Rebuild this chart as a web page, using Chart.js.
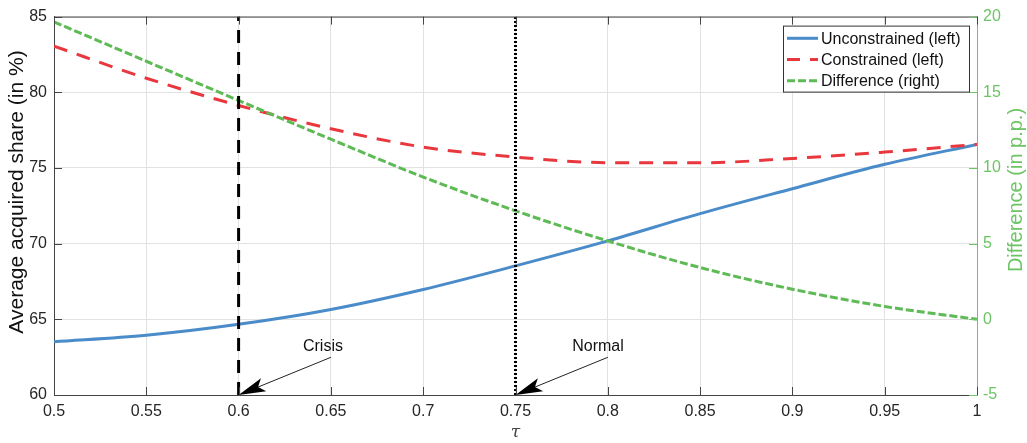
<!DOCTYPE html>
<html>
<head>
<meta charset="utf-8">
<style>
  html, body { margin: 0; padding: 0; background: #fff; }
  #wrap { width: 1027px; height: 443px; position: relative; }
</style>
<script src="https://cdn.jsdelivr.net/npm/chart.js@4.4.0/dist/chart.umd.min.js"></script>
</head>
<body>
<div id="wrap"><canvas id="chart"></canvas></div>
<script>
// values
var tau = [0.5, 0.55, 0.6, 0.65, 0.7, 0.75, 0.8, 0.85, 0.9, 0.95, 1.0];
var unconstrained = [63.52, 63.95, 64.67, 65.65, 66.97, 68.53, 70.18, 71.98, 73.63, 75.24, 76.56];
var constrained = [83.05, 80.93, 79.13, 77.59, 76.38, 75.72, 75.35, 75.34, 75.63, 76.05, 76.56];
var difference = [19.65, 17.05, 14.46, 11.9, 9.4, 7.17, 5.18, 3.42, 1.99, 0.85, 0.0];
var xTicks = [0.5, 0.55, 0.6, 0.65, 0.7, 0.75, 0.8, 0.85, 0.9, 0.95, 1];
var leftTicks = [60, 65, 70, 75, 80, 85];
var rightTicks = [-5, 0, 5, 10, 15, 20];
var crisisTau = 0.6;
var normalTau = 0.75;

var BLUE = '#4a8bc9', RED = '#e8383d', GREEN = '#5dba55', AXIS_GREEN = '#6cc464';
var FONT = '"Liberation Sans", Arial, Helvetica, sans-serif';

function pts(ys){
  return tau.map(function(t, i){ return {x: t, y: ys[i]}; });
}

// arrows with text, MATLAB-style annotations
var notes = [
  {text: 'Crisis', tx: 0.6457, ty: 63.23, from: {x: 0.65, y: 62.49}, to: {x: crisisTau, y: 60}},
  {text: 'Normal', tx: 0.7947, ty: 63.23, from: {x: 0.8, y: 62.49}, to: {x: normalTau, y: 60}}
];

var notesPlugin = {
  id: 'notes',
  afterDatasetsDraw: function(chart){
    var c = chart.ctx, sx = chart.scales.x, sy = chart.scales.y;
    c.save();
    notes.forEach(function(n){
      var x0 = sx.getPixelForValue(n.from.x), y0 = sy.getPixelForValue(n.from.y);
      var x1 = sx.getPixelForValue(n.to.x), y1 = sy.getPixelForValue(n.to.y);
      var ang = Math.atan2(y1 - y0, x1 - x0);
      var len = 27, hw = 7;
      var bx = x1 - Math.cos(ang) * len, by = y1 - Math.sin(ang) * len;
      c.strokeStyle = '#222'; c.lineWidth = 1;
      c.beginPath(); c.moveTo(x0, y0); c.lineTo(bx + Math.cos(ang) * 8, by + Math.sin(ang) * 8); c.stroke();
      c.fillStyle = '#000';
      c.beginPath();
      c.moveTo(x1, y1);
      c.lineTo(bx - Math.sin(ang) * hw, by + Math.cos(ang) * hw);
      c.lineTo(bx + Math.cos(ang) * 6, by + Math.sin(ang) * 6);
      c.lineTo(bx + Math.sin(ang) * hw, by - Math.cos(ang) * hw);
      c.closePath(); c.fill();
      c.font = '16px ' + FONT; c.fillStyle = '#111';
      c.textAlign = 'center'; c.textBaseline = 'middle';
      c.fillText(n.text, sx.getPixelForValue(n.tx), sy.getPixelForValue(n.ty));
    });
    c.restore();
  }
};

// axis titles both read bottom-to-top, as in MATLAB
function vText(c, text, x, y, color, size){
  c.save();
  c.translate(x, y);
  c.rotate(-Math.PI / 2);
  c.font = size + 'px ' + FONT;
  c.fillStyle = color;
  c.textAlign = 'center'; c.textBaseline = 'middle';
  c.fillText(text, 0, 0);
  c.restore();
}

// top border, inward tick marks, axis titles and the legend box
var framePlugin = {
  id: 'frame',
  afterDraw: function(chart){
    var c = chart.ctx, a = chart.chartArea;
    var sx = chart.scales.x, sy = chart.scales.y, sy2 = chart.scales.y2;
    var tl = 8;
    c.save();
    c.lineWidth = 1;
    c.strokeStyle = '#444';
    c.beginPath(); c.moveTo(a.left, a.top + 0.5); c.lineTo(a.right, a.top + 0.5); c.stroke();
    xTicks.forEach(function(v){
      var px = Math.round(sx.getPixelForValue(v)) + 0.5;
      c.beginPath(); c.moveTo(px, a.bottom); c.lineTo(px, a.bottom - tl); c.stroke();
      c.beginPath(); c.moveTo(px, a.top); c.lineTo(px, a.top + tl); c.stroke();
    });
    leftTicks.forEach(function(v){
      var py = Math.round(sy.getPixelForValue(v)) + 0.5;
      c.beginPath(); c.moveTo(a.left, py); c.lineTo(a.left + tl, py); c.stroke();
    });
    c.strokeStyle = AXIS_GREEN;
    rightTicks.forEach(function(v){
      var py = Math.round(sy2.getPixelForValue(v)) + 0.5;
      c.beginPath(); c.moveTo(a.right, py); c.lineTo(a.right - tl, py); c.stroke();
    });

    vText(c, 'Average acquired share (in %)', 17, 192, '#111', 21);
    vText(c, 'Difference (in p.p.)', 1016, 190, AXIS_GREEN, 20);

    // legend
    var w = 186, h = 66;
    var lx = a.right - 8 - w, ly = a.top + 9;
    c.fillStyle = '#fff';
    c.fillRect(lx, ly, w, h);
    c.strokeStyle = '#333';
    c.strokeRect(lx + 0.5, ly + 0.5, w, h);
    var items = [
      {label: 'Unconstrained (left)', color: BLUE, dash: []},
      {label: 'Constrained (left)', color: RED, dash: [13, 10]},
      {label: 'Difference (right)', color: GREEN, dash: [8, 3]}
    ];
    c.font = '16px ' + FONT;
    c.textAlign = 'left'; c.textBaseline = 'middle';
    items.forEach(function(it, i){
      var yy = ly + 12.7 + i * 21.2;
      c.strokeStyle = it.color; c.lineWidth = 3;
      c.setLineDash(it.dash);
      c.beginPath(); c.moveTo(lx + 4, yy); c.lineTo(lx + 35, yy); c.stroke();
      c.setLineDash([]);
      c.fillStyle = '#111';
      c.fillText(it.label, lx + 38, yy + 1);
    });
    c.restore();
  }
};

Chart.defaults.font.family = FONT;
Chart.defaults.font.size = 16;
Chart.defaults.color = '#262626';

var ctx = document.getElementById('chart');
new Chart(ctx, {
  type: 'scatter',
  data: {
    datasets: [
      {label: 'Unconstrained (left)', data: pts(unconstrained), yAxisID: 'y', showLine: true,
       borderColor: BLUE, borderWidth: 3, pointRadius: 0, cubicInterpolationMode: 'monotone', order: 3},
      {label: 'Constrained (left)', data: pts(constrained), yAxisID: 'y', showLine: true,
       borderColor: RED, borderWidth: 3, borderDash: [14, 10], pointRadius: 0, cubicInterpolationMode: 'monotone', order: 2},
      {label: 'Difference (right)', data: pts(difference), yAxisID: 'y2', showLine: true,
       borderColor: GREEN, borderWidth: 3, borderDash: [8, 3], pointRadius: 0, cubicInterpolationMode: 'monotone', order: 1},
      {label: 'crisis', data: [{x: crisisTau, y: 60}, {x: crisisTau, y: 85}], yAxisID: 'y', showLine: true,
       borderColor: '#000', borderWidth: 3, borderDash: [13, 9], pointRadius: 0, order: 0},
      {label: 'normal', data: [{x: normalTau, y: 60}, {x: normalTau, y: 85}], yAxisID: 'y', showLine: true,
       borderColor: '#000', borderWidth: 3, borderDash: [2, 2], pointRadius: 0, order: 0}
    ]
  },
  options: {
    responsive: true,
    maintainAspectRatio: false,
    animation: false,
    layout: { padding: {top: 16, left: 0, right: 0, bottom: 0} },
    plugins: { legend: {display: false}, tooltip: {enabled: false} },
    scales: {
      x: {
        type: 'linear', min: 0.5, max: 1,
        afterBuildTicks: function(s){ s.ticks = xTicks.map(function(v){ return {value: v}; }); },
        afterFit: function(s){ s.height = 48; },
        ticks: { padding: 7, maxRotation: 0, callback: function(v){ return String(v); } },
        grid: { color: '#e2e2e2', drawTicks: false },
        border: { color: '#444' },
        title: { display: true, text: 'τ', color: '#444',
                 font: {size: 17, style: 'italic', family: '"DejaVu Serif", serif'}, padding: {top: 0, bottom: 0} }
      },
      y: {
        position: 'left', min: 60, max: 85,
        afterBuildTicks: function(s){ s.ticks = leftTicks.map(function(v){ return {value: v}; }); },
        afterFit: function(s){ s.width = 54; },
        ticks: { padding: 7 },
        grid: { color: '#e2e2e2', drawTicks: false },
        border: { color: '#444' }
      },
      y2: {
        position: 'right', min: -5, max: 20,
        afterBuildTicks: function(s){ s.ticks = rightTicks.map(function(v){ return {value: v}; }); },
        afterFit: function(s){ s.width = 50; },
        ticks: { padding: 6, color: AXIS_GREEN },
        grid: { drawOnChartArea: false, drawTicks: false },
        border: { color: AXIS_GREEN }
      }
    }
  },
  plugins: [notesPlugin, framePlugin]
});
</script>
</body>
</html>
